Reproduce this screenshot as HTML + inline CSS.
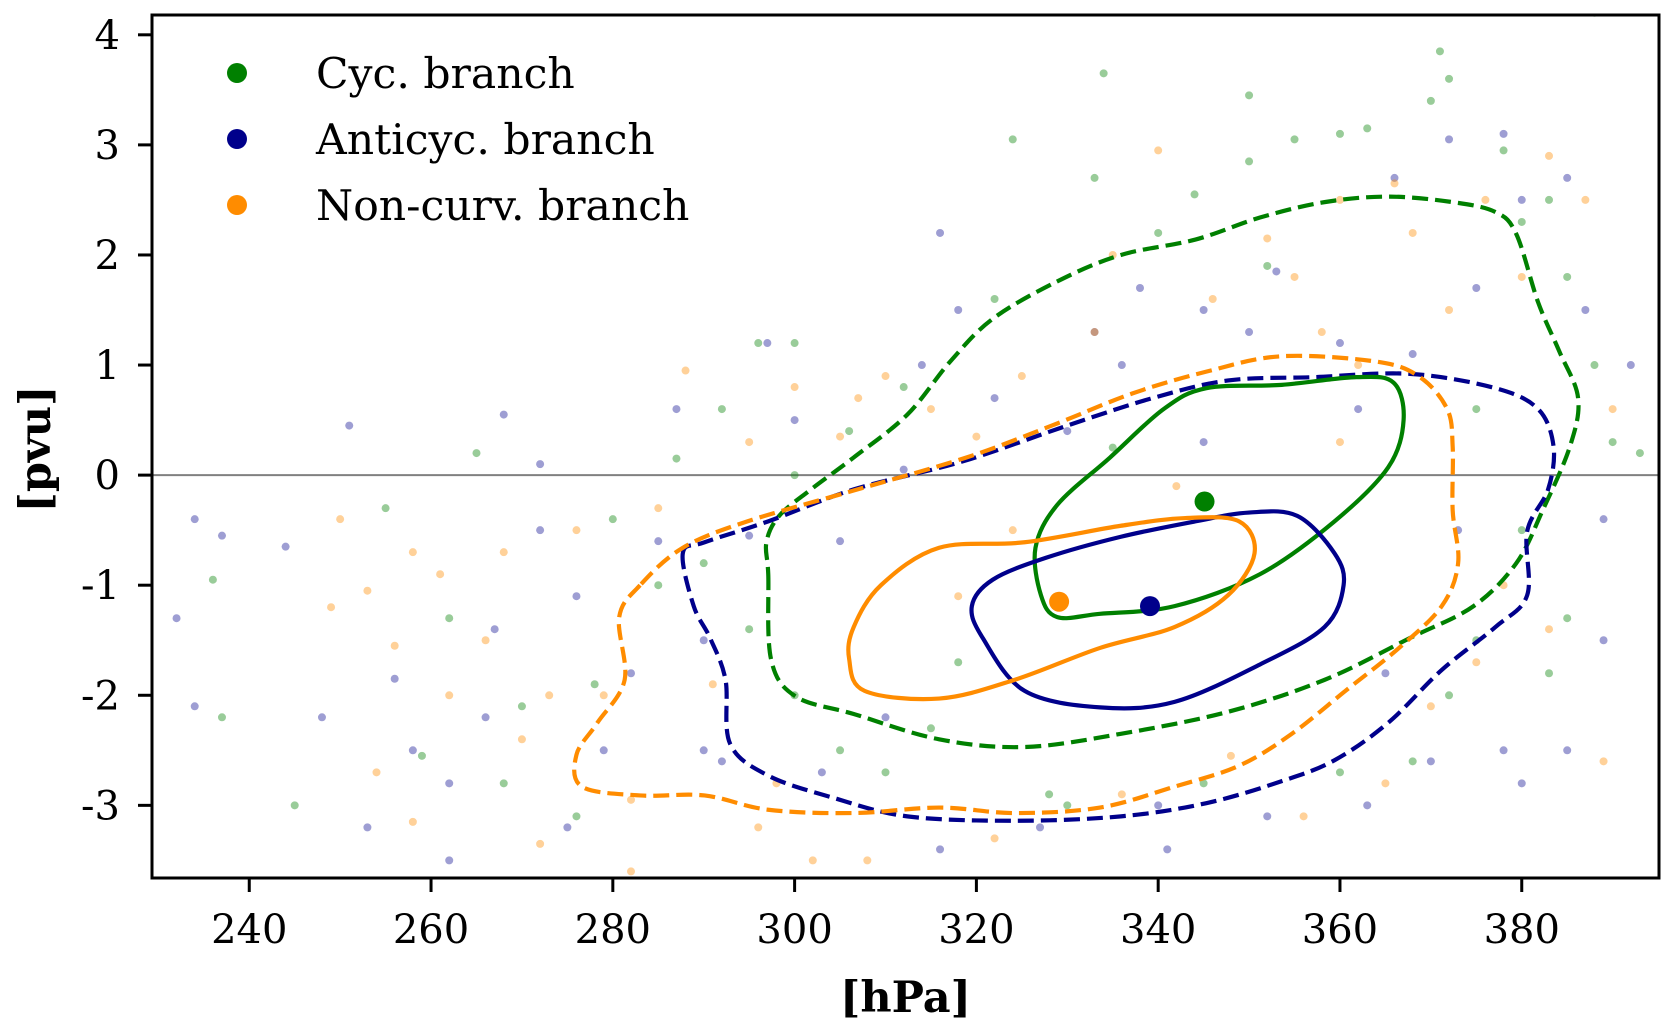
<!DOCTYPE html>
<html><head><meta charset="utf-8"><style>
html,body{margin:0;padding:0;background:#fff}
svg{display:block;font-family:"DejaVu Serif","Liberation Serif",serif}
</style></head><body>
<svg id="chart" width="1674" height="1033" viewBox="0 0 1674 1033">
<g id="scatter"></g>
<g id="contours"></g>
<g id="centroids"></g>
<g id="axes"></g>
<g id="legend"></g>
</svg>
<script>
const xTicks=[240,260,280,300,320,340,360,380];
const yTicks=[4,3,2,1,0,-1,-2,-3];
const seriesNames=["Cyc. branch","Anticyc. branch","Non-curv. branch"];
const seriesColors=["#008000","#00008b","#ff8c00"];
const greenScatter=[[245,-3.0],[237,-2.2],[236,-0.95],[255,-0.3],[265,0.2],[262,-1.3],[259,-2.55],[270,-2.1],[276,-3.1],[280,-0.4],[287,0.15],[292,0.6],[296,1.2],[300,1.2],[295,-1.4],[300,-2.0],[305,-2.5],[310,-2.7],[315,-2.3],[318,-1.7],[322,1.6],[324,3.05],[333,2.7],[334,3.65],[340,2.2],[344,2.55],[350,2.85],[350,3.45],[355,3.05],[360,3.1],[363,3.15],[370,3.4],[371,3.85],[372,3.6],[378,2.95],[383,2.5],[385,1.8],[388,1.0],[390,0.3],[393,0.2],[380,-0.5],[385,-1.3],[383,-1.8],[375,-1.5],[372,-2.0],[368,-2.6],[360,-2.7],[345,-2.8],[330,-3.0],[312,0.8],[306,0.4],[300,0.0],[290,-0.8],[285,-1.0],[278,-1.9],[268,-2.8],[335,0.25],[352,1.9],[380,2.3],[388,4.2],[375,0.6],[328,-2.9]];
const blueScatter=[[232,-1.3],[234,-0.4],[234,-2.1],[237,-0.55],[244,-0.65],[248,-2.2],[251,0.45],[253,-3.2],[256,-1.85],[262,-2.8],[262,-3.5],[267,-1.4],[268,0.55],[272,0.1],[272,-0.5],[276,-1.1],[279,-2.5],[282,-1.8],[285,-0.6],[287,0.6],[290,-1.5],[292,-2.6],[295,-0.55],[297,1.2],[300,0.5],[305,-0.6],[310,-2.2],[312,0.05],[314,1.0],[316,2.2],[318,1.5],[322,0.7],[327,-3.2],[333,1.3],[336,1.0],[338,1.7],[340,-3.0],[345,1.5],[350,1.3],[353,1.85],[360,1.2],[366,2.7],[368,1.1],[372,3.05],[375,1.7],[378,3.1],[380,2.5],[385,2.7],[387,1.5],[392,1.0],[389,-0.4],[389,-1.5],[385,-2.5],[380,-2.8],[378,-2.5],[370,-2.6],[363,-3.0],[352,-3.1],[341,-3.4],[316,-3.4],[303,-2.7],[290,-2.5],[275,-3.2],[266,-2.2],[258,-2.5],[330,0.4],[345,0.3],[362,0.6],[373,-0.5],[365,-1.8]];
const orangeScatter=[[229,-2.8],[249,-1.2],[250,-0.4],[253,-1.05],[254,-2.7],[256,-1.55],[258,-3.15],[261,-0.9],[266,-1.5],[268,-0.7],[270,-2.4],[272,-3.35],[276,-0.5],[279,-2.0],[282,-3.6],[285,-0.3],[288,0.95],[291,-1.9],[295,0.3],[298,-2.8],[300,0.8],[302,-3.5],[305,0.35],[307,0.7],[310,0.9],[315,0.6],[320,0.35],[325,0.9],[333,1.3],[335,2.0],[340,2.95],[346,1.6],[352,2.15],[355,1.8],[358,1.3],[360,2.5],[362,1.0],[366,2.65],[368,2.2],[372,1.5],[376,2.5],[380,1.8],[383,2.9],[387,2.5],[390,0.6],[389,-2.6],[383,-1.4],[378,-1.0],[375,-1.7],[370,-2.1],[365,-2.8],[356,-3.1],[348,-2.55],[336,-2.9],[322,-3.3],[308,-3.5],[296,-3.2],[282,-2.95],[273,-2.0],[262,-2.0],[258,-0.7],[342,-0.1],[360,0.3],[324,-0.5],[318,-1.1]];
const greenInner=[[328.9,-1.29],[333.6,-1.26],[341.8,-1.19],[351.2,-0.9],[359.4,-0.42],[365.3,0.07],[367,0.5],[365.9,0.84],[361.8,0.89],[353.6,0.82],[345.3,0.79],[340.6,0.6],[334.7,0.16],[328.9,-0.27],[326.5,-0.66],[327.1,-1.09]];
const blueInner=[[319.5,-1.19],[320.7,-1.48],[325.3,-1.96],[333.6,-2.11],[341.8,-2.06],[351.2,-1.72],[358.3,-1.38],[360.4,-1.0],[359.4,-0.71],[355.3,-0.37],[350,-0.34],[344.1,-0.42],[335.9,-0.56],[327.7,-0.75],[321.8,-0.95]];
const orangeInner=[[306,-1.67],[307.7,-1.96],[315.9,-2.03],[324.2,-1.86],[333.6,-1.57],[341.8,-1.38],[347.7,-1.09],[350.6,-0.71],[348.9,-0.42],[343,-0.39],[335.9,-0.46],[325.3,-0.61],[315.9,-0.66],[309.5,-1.0],[306.5,-1.38]];
const greenOuter=[[297.1,-0.9],[297.4,-1.67],[300.1,-2.01],[306.5,-2.17],[315.9,-2.4],[325.3,-2.47],[335.9,-2.35],[347.7,-2.15],[358.3,-1.86],[367.7,-1.48],[374.7,-1.19],[379.4,-0.8],[382.3,-0.32],[385.3,0.26],[386.2,0.7],[384.1,1.13],[381.8,1.57],[379.4,2.19],[377.1,2.39],[372.4,2.48],[365.3,2.53],[358.3,2.48],[351.2,2.34],[344.1,2.14],[335.9,2.0],[328.9,1.76],[321.8,1.42],[317.1,1.03],[312.4,0.55],[306.5,0.16],[301.8,-0.13],[298.3,-0.37],[296.9,-0.61]];
const blueOuter=[[287.7,-0.71],[288.9,-1.19],[290.7,-1.48],[292.4,-1.86],[292.9,-2.44],[297.1,-2.73],[304.2,-2.93],[312.4,-3.1],[324.2,-3.14],[335.9,-3.1],[345.3,-2.98],[353.6,-2.78],[359.4,-2.59],[365.3,-2.25],[371.2,-1.77],[377.1,-1.38],[380.6,-1.09],[380.6,-0.51],[382.9,-0.13],[383.5,0.26],[381.8,0.6],[377.1,0.79],[367.7,0.92],[357.1,0.89],[347.7,0.86],[339.4,0.7],[330,0.45],[318.3,0.12],[306.5,-0.13],[297.1,-0.42],[290.1,-0.61]];
const orangeOuter=[[283,-1.0],[280.7,-1.29],[281.3,-1.86],[278.3,-2.25],[276,-2.54],[276.6,-2.83],[283,-2.91],[290.1,-2.91],[297.1,-3.04],[306.5,-3.07],[315.9,-3.02],[324.2,-3.07],[333.6,-3.02],[341.8,-2.83],[348.9,-2.64],[354.7,-2.35],[360.6,-1.96],[366.5,-1.57],[371.2,-1.19],[373,-0.8],[372.4,-0.32],[372.4,0.26],[371.8,0.6],[368.8,0.89],[364.1,1.03],[353.6,1.08],[345.3,0.94],[337.1,0.74],[328.3,0.45],[318.9,0.16],[306.5,-0.14],[294.8,-0.42],[287.7,-0.66]];
const centroidX=[345.1,339.1,329.1];
const centroidY=[-0.24,-1.19,-1.15];

const L=152,R=1659,T=15,B=878;
const X0=229.3,X1=395.1,Y0=-3.66,Y1=4.18;
const sx=h=>L+(h-X0)/(X1-X0)*(R-L);
const sy=p=>B-(p-Y0)/(Y1-Y0)*(B-T);
const NS="http://www.w3.org/2000/svg";
function mk(tag,attrs,parent){const e=document.createElementNS(NS,tag);for(const k in attrs)e.setAttribute(k,attrs[k]);parent.appendChild(e);return e;}

const defs=mk("defs",{},document.getElementById("chart"));
const cp=mk("clipPath",{id:"clip"},defs);
mk("rect",{x:L,y:T,width:R-L,height:B-T},cp);
const sc=document.getElementById("scatter");sc.setAttribute("clip-path","url(#clip)");
const co=document.getElementById("contours");co.setAttribute("clip-path","url(#clip)");

const zl=mk("line",{x1:L,x2:R,y1:sy(0),y2:sy(0),stroke:"#808080","stroke-width":2},sc);



const scat=[greenScatter,blueScatter,orangeScatter];
const scatFill=["rgba(0,128,0,0.4)","rgba(0,0,139,0.38)","rgba(255,140,0,0.4)"];
scat.forEach((arr,i)=>{arr.forEach(d=>{
  const c=mk("circle",{cx:sx(d[0]),cy:sy(d[1]),r:4,fill:scatFill[i]},sc);
  
  
});});

function closedPath(pts){
  const P=pts.map(p=>[sx(p[0]),sy(p[1])]);const n=P.length;
  let d="M"+P[0][0]+","+P[0][1];
  for(let i=0;i<n;i++){
    const p0=P[(i-1+n)%n],p1=P[i],p2=P[(i+1)%n],p3=P[(i+2)%n];
    const c1=[p1[0]+(p2[0]-p0[0])/6,p1[1]+(p2[1]-p0[1])/6];
    const c2=[p2[0]-(p3[0]-p1[0])/6,p2[1]-(p3[1]-p1[1])/6];
    d+=" C"+c1+" "+c2+" "+p2;
  }
  return d+"Z";
}
const contourSets=[[greenOuter,0,true],[blueOuter,1,true],[orangeOuter,2,true],[greenInner,0,false],[blueInner,1,false],[orangeInner,2,false]];
contourSets.forEach(([pts,ci,dashed])=>{
  const a={d:closedPath(pts),fill:"none",stroke:seriesColors[ci],"stroke-width":4.2};
  if(dashed)a["stroke-dasharray"]="16 7";
  const p=mk("path",a,co);
  
  
});

const cg=document.getElementById("centroids");
centroidX.forEach((h,i)=>{
  const c=mk("circle",{cx:sx(h),cy:sy(centroidY[i]),r:10,fill:seriesColors[i]},cg);
  
  
});

const ax=document.getElementById("axes");
const fr=mk("rect",{x:L,y:T,width:R-L,height:B-T,fill:"none",stroke:"#000","stroke-width":3},ax);


xTicks.forEach(t=>{
  mk("line",{x1:sx(t),x2:sx(t),y1:B,y2:B+14,stroke:"#000","stroke-width":3},ax);
  const tx=mk("text",{x:sx(t),y:943,"text-anchor":"middle","font-size":40},ax);tx.textContent=t;
  
  
});
yTicks.forEach(t=>{
  mk("line",{x1:L-14,x2:L,y1:sy(t),y2:sy(t),stroke:"#000","stroke-width":3},ax);
  const tx=mk("text",{x:120,y:sy(t)+14,"text-anchor":"end","font-size":40},ax);tx.textContent=t;
  
  
});
const xl=mk("text",{x:(L+R)/2,y:1012,"text-anchor":"middle","font-size":43,"font-weight":"bold"},ax);xl.textContent="[hPa]";


const yl=mk("text",{x:0,y:0,"text-anchor":"middle","font-size":43,"font-weight":"bold",transform:"translate(50,449) rotate(-90)"},ax);yl.textContent="[pvu]";



const lg=document.getElementById("legend");
const ly=[73,139,205];
seriesNames.forEach((n,i)=>{
  const g=mk("g",{},lg);
  
  
  mk("circle",{cx:237,cy:ly[i],r:10,fill:seriesColors[i]},g);
  const t=mk("text",{x:316,y:ly[i]+15,"font-size":42.5},g);t.textContent=n;
});
</script>
</body></html>
